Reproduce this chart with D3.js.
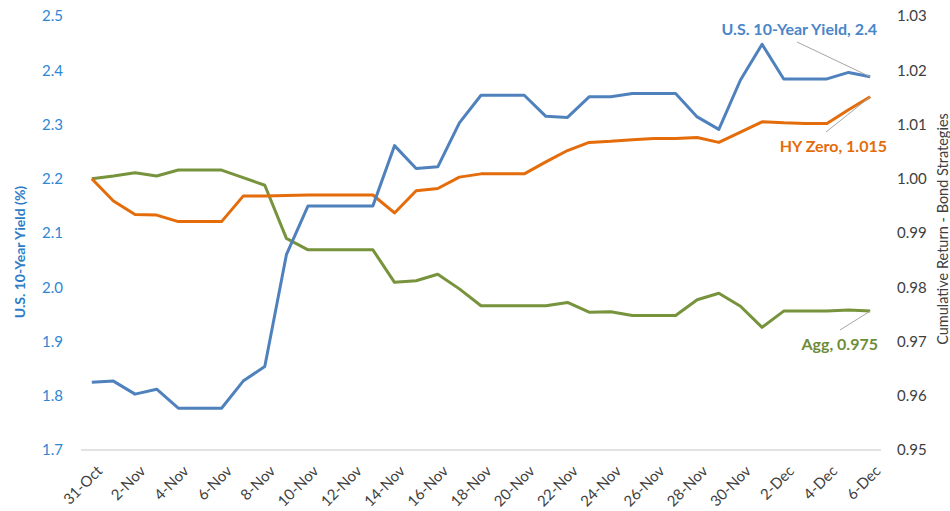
<!DOCTYPE html>
<html>
<head>
<meta charset="utf-8">
<script src="https://cdn.jsdelivr.net/npm/d3@7"></script>
<style>
  body { margin: 0; background: #fff; }
  text { font-family: Lato, "Open Sans", sans-serif; }
</style>
</head>
<body>
<div id="chart"></div>
<script>
// daily categories, 31-Oct to 6-Dec
var dates = ["31-Oct","1-Nov","2-Nov","3-Nov","4-Nov","5-Nov","6-Nov","7-Nov","8-Nov","9-Nov",
  "10-Nov","11-Nov","12-Nov","13-Nov","14-Nov","15-Nov","16-Nov","17-Nov","18-Nov","19-Nov",
  "20-Nov","21-Nov","22-Nov","23-Nov","24-Nov","25-Nov","26-Nov","27-Nov","28-Nov","29-Nov",
  "30-Nov","1-Dec","2-Dec","3-Dec","4-Dec","5-Dec","6-Dec"];

// U.S. 10-year yield (%), left axis
var yieldData = [1.825,1.827,1.803,1.812,1.777,1.777,1.777,1.827,1.854,2.06,
  2.15,2.15,2.15,2.15,2.261,2.219,2.222,2.303,2.354,2.354,
  2.354,2.315,2.313,2.351,2.351,2.357,2.357,2.357,2.314,2.291,
  2.382,2.448,2.384,2.384,2.384,2.396,2.388];

// cumulative returns, right axis
var hyZero = [1.000,0.9959,0.9934,0.9933,0.9921,0.9921,0.9921,0.9968,0.9968,0.9969,
  0.9970,0.9970,0.9970,0.9970,0.9937,0.9978,0.9982,1.0003,1.0009,1.0009,
  1.0009,1.0031,1.0052,1.0067,1.0069,1.0072,1.0074,1.0074,1.0076,1.0067,
  1.0086,1.0105,1.0103,1.0102,1.0102,1.0127,1.0151];

var agg = [1.000,1.0005,1.0011,1.0005,1.0016,1.0016,1.0016,1.0002,0.9988,0.9890,
  0.9869,0.9869,0.9869,0.9869,0.9809,0.9812,0.9824,0.9797,0.9766,0.9766,
  0.9766,0.9766,0.9772,0.9754,0.9755,0.9748,0.9748,0.9748,0.9777,0.9789,
  0.9765,0.9726,0.9756,0.9756,0.9756,0.9758,0.9756];

var leftTicks = [1.7,1.8,1.9,2.0,2.1,2.2,2.3,2.4,2.5];
var rightTicks = [0.95,0.96,0.97,0.98,0.99,1.00,1.01,1.02,1.03];

var svgWidth = 950, svgHeight = 511;
var margin = { top: 16, right: 69, bottom: 61, left: 81 };
var width = svgWidth - margin.left - margin.right;
var height = svgHeight - margin.top - margin.bottom;

var svg = d3.select("#chart").append("svg")
  .attr("width", svgWidth)
  .attr("height", svgHeight);

var chartGroup = svg.append("g")
  .attr("transform", `translate(${margin.left}, ${margin.top})`);

// scales
var xScale = d3.scalePoint()
  .domain(dates)
  .range([0, width])
  .padding(0.5);

var yLeft = d3.scaleLinear().domain([1.7, 2.5]).range([height, 0]);
var yRight = d3.scaleLinear().domain([0.95, 1.03]).range([height, 0]);

// axes
var bottomAxis = d3.axisBottom(xScale)
  .tickValues(dates.filter((d, i) => i % 2 == 0))
  .tickSize(0)
  .tickPadding(6);

var xAxisG = chartGroup.append("g")
  .attr("transform", `translate(0, ${height})`)
  .call(bottomAxis);
xAxisG.select(".domain").attr("stroke", "#d9d9d9").attr("stroke-width", 1.3)
  .attr("d", `M0,0H${width}`);
xAxisG.selectAll("text")
  .attr("fill", "#404040")
  .style("font-size", "15px")
  .attr("text-anchor", "end")
  .attr("dy", "0.35em")
  .attr("transform", "translate(3,14) rotate(-45)");

var leftAxis = d3.axisLeft(yLeft).tickValues(leftTicks).tickFormat(d3.format(".1f")).tickSize(0).tickPadding(18);
var leftG = chartGroup.append("g").call(leftAxis);
leftG.select(".domain").remove();
leftG.selectAll("text").attr("fill", "#2e86d6").style("font-size", "15px");

var rightAxis = d3.axisRight(yRight).tickValues(rightTicks).tickFormat(d3.format(".2f")).tickSize(0).tickPadding(16);
var rightG = chartGroup.append("g")
  .attr("transform", `translate(${width}, 0)`)
  .call(rightAxis);
rightG.select(".domain").remove();
rightG.selectAll("text").attr("fill", "#404040").style("font-size", "15px");

// axis titles
svg.append("text")
  .attr("transform", "translate(25, 252) rotate(-90)")
  .attr("text-anchor", "middle")
  .attr("fill", "#2e7cc6")
  .style("font-size", "14px")
  .style("font-weight", "bold")
  .text("U.S. 10-Year Yield (%)");

svg.append("text")
  .attr("transform", "translate(948, 229) rotate(-90)")
  .attr("text-anchor", "middle")
  .attr("fill", "#404040")
  .style("font-size", "14.5px")
  .text("Cumulative Return - Bond Strategies");

// lines
var lineLeft = d3.line()
  .x((d, i) => xScale(dates[i]))
  .y(d => yLeft(d));
var lineRight = d3.line()
  .x((d, i) => xScale(dates[i]))
  .y(d => yRight(d));

chartGroup.append("path").datum(agg)
  .attr("d", lineRight).attr("fill", "none")
  .attr("stroke", "#77933c").attr("stroke-width", 3).attr("stroke-linejoin", "round");
chartGroup.append("path").datum(hyZero)
  .attr("d", lineRight).attr("fill", "none")
  .attr("stroke", "#e46c0a").attr("stroke-width", 3).attr("stroke-linejoin", "round");
chartGroup.append("path").datum(yieldData)
  .attr("d", lineLeft).attr("fill", "none")
  .attr("stroke", "#4f81bd").attr("stroke-width", 3).attr("stroke-linejoin", "round");

// end labels with leader lines
var last = dates.length - 1;
var lx = xScale(dates[last]);
var labels = [
  { text: "U.S. 10-Year Yield, 2.4", y: yLeft(yieldData[last]), tx: 796, ty: 13, lineFrom: [716, 26], color: "#4a86c8" },
  { text: "HY Zero, 1.015", y: yRight(hyZero[last]), tx: 806, ty: 130, lineFrom: [745, 116], color: "#e46c0a" },
  { text: "Agg, 0.975", y: yRight(agg[last]), tx: 797, ty: 328, lineFrom: [759, 314], color: "#6f8c36" }
];
labels.forEach(function(l) {
  chartGroup.append("line")
    .attr("x1", l.lineFrom[0]).attr("y1", l.lineFrom[1])
    .attr("x2", lx).attr("y2", l.y)
    .attr("stroke", "#a6a6a6").attr("stroke-width", 1);
  chartGroup.append("text")
    .attr("x", l.tx).attr("y", l.ty)
    .attr("text-anchor", "end")
    .attr("dy", "0.35em")
    .attr("fill", l.color)
    .style("font-size", "16px")
    .style("font-weight", "bold")
    .text(l.text);
});
</script>
</body>
</html>
